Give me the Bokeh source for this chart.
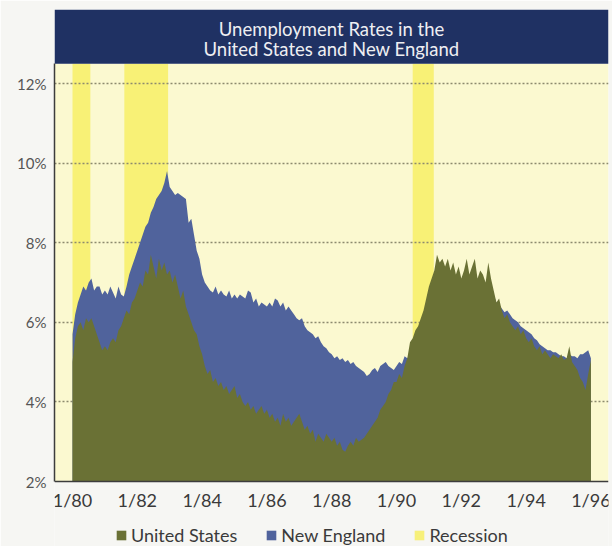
from bokeh.plotting import figure
from bokeh.models import (Range1d, FixedTicker, Legend, LegendItem, BoxAnnotation,
                          Label, ColumnDataSource)
from bokeh.embed import file_html
from bokeh.resources import INLINE

# Monthly unemployment rates, Jan 1980 .. Jan 1996 (percent)
start_year = 1980
united_states = [
    5.0, 5.6, 5.9, 6.0, 5.8, 6.1, 6.0, 6.1, 5.9, 5.7, 5.5, 5.3,      # 1980
    5.4, 5.3, 5.5, 5.6, 5.5, 5.8, 5.9, 6.1, 6.3, 6.2, 6.5, 6.6,      # 1981
    6.8, 7.0, 6.9, 7.3, 7.2, 7.7, 7.4, 7.1, 7.6, 7.3, 7.5, 7.2,      # 1982
    7.3, 7.0, 7.2, 6.9, 6.6, 6.8, 6.4, 6.2, 6.0, 5.8, 5.7, 5.4,      # 1983
    5.2, 4.9, 4.7, 4.8, 4.5, 4.6, 4.4, 4.5, 4.3, 4.4, 4.2, 4.3,      # 1984
    4.4, 4.1, 4.2, 4.0, 3.9, 4.0, 3.8, 3.9, 3.7, 3.8, 3.9, 3.7,      # 1985
    3.8, 3.6, 3.7, 3.5, 3.6, 3.4, 3.7, 3.5, 3.6, 3.4, 3.5, 3.6,      # 1986
    3.7, 3.5, 3.3, 3.4, 3.2, 3.3, 3.0, 3.2, 3.1, 3.0, 3.2, 3.1,      # 1987
    3.0, 3.1, 2.9, 3.0, 2.8, 2.75, 2.9, 3.0, 2.9, 3.1, 3.0, 3.05,    # 1988
    3.1, 3.2, 3.3, 3.4, 3.5, 3.6, 3.8, 3.9, 4.0, 4.2, 4.3, 4.5,      # 1989
    4.5, 4.7, 4.6, 4.9, 5.1, 5.5, 5.6, 5.8, 5.9, 6.1, 6.3, 6.6,      # 1990
    6.9, 7.1, 7.3, 7.7, 7.5, 7.6, 7.4, 7.6, 7.3, 7.5, 7.2, 7.4,      # 1991
    7.1, 7.3, 7.6, 7.2, 7.4, 7.6, 7.1, 7.3, 7.2, 7.0, 7.5, 7.1,      # 1992
    6.8, 6.5, 6.6, 6.3, 6.1, 6.2, 6.0, 5.9, 5.8, 5.9, 5.7, 5.8,      # 1993
    5.6, 5.5, 5.6, 5.4, 5.3, 5.4, 5.2, 5.3, 5.2, 5.1, 5.2, 5.15,     # 1994
    5.1, 5.2, 5.05, 5.1, 5.4, 5.0, 4.9, 4.8, 4.6, 4.5, 4.3, 4.7,     # 1995
    5.05,                                                            # 1996
]
new_england = [
    5.7, 6.2, 6.5, 6.7, 6.9, 6.8, 7.0, 7.1, 6.8, 6.9, 6.9, 6.7,      # 1980
    6.8, 6.7, 6.9, 6.75, 6.6, 6.9, 6.7, 6.65, 6.9, 7.2, 7.4, 7.6,    # 1981
    7.8, 8.0, 8.2, 8.4, 8.5, 8.75, 8.9, 9.1, 9.2, 9.3, 9.5, 9.8,     # 1982
    9.4, 9.3, 9.2, 9.25, 9.2, 9.15, 9.1, 8.5, 8.6, 8.2, 7.8, 7.6,    # 1983
    7.2, 7.0, 6.9, 6.8, 6.75, 6.9, 6.7, 6.8, 6.7, 6.65, 6.8, 6.6,    # 1984
    6.7, 6.6, 6.7, 6.65, 6.6, 6.8, 6.75, 6.5, 6.6, 6.4, 6.5, 6.45,   # 1985
    6.4, 6.5, 6.4, 6.6, 6.55, 6.4, 6.5, 6.3, 6.4, 6.3, 6.2, 6.1,     # 1986
    6.05, 6.1, 5.9, 5.8, 5.75, 5.7, 5.6, 5.65, 5.5, 5.4, 5.35, 5.25, # 1987
    5.2, 5.1, 5.15, 5.05, 5.1, 5.0, 5.05, 4.95, 5.0, 4.9, 4.85, 4.8, # 1988
    4.75, 4.65, 4.7, 4.8, 4.85, 4.75, 4.9, 4.95, 5.0, 4.9, 4.85, 4.8,# 1989
    4.9, 5.0, 4.95, 5.15, 5.1, 5.2, 5.3, 5.4, 5.5, 5.6, 5.8, 5.9,    # 1990
    6.0, 6.1, 6.15, 6.2, 6.25, 6.3, 6.4, 6.5, 6.55, 6.6, 6.7, 6.75,  # 1991
    6.7, 6.8, 6.75, 6.85, 6.8, 6.9, 6.8, 6.85, 6.9, 6.8, 6.9, 6.85,  # 1992
    6.7, 6.5, 6.45, 6.35, 6.25, 6.3, 6.2, 6.1, 6.05, 6.0, 5.9, 5.85, # 1993
    5.8, 5.75, 5.7, 5.6, 5.55, 5.45, 5.4, 5.35, 5.3, 5.3, 5.25, 5.25,# 1994
    5.2, 5.15, 5.15, 5.1, 5.2, 5.15, 5.15, 5.1, 5.2, 5.2, 5.25, 5.3, # 1995
    5.1,                                                             # 1996
]

# Recession periods (decimal years)
recession_start = [1980.0, 1981.6, 1990.5]
recession_end = [1980.55, 1982.95, 1991.15]

x_tick_years = [1980, 1982, 1984, 1986, 1988, 1990, 1992, 1994, 1996]
x_tick_labels = ["1/80", "1/82", "1/84", "1/86", "1/88", "1/90", "1/92", "1/94", "1/96"]
y_ticks = [2, 4, 6, 8, 10, 12]
y_tick_labels = ["2%", "4%", "6%", "8%", "10%", "12%"]

title_lines = ["Unemployment Rates in the", "United States and New England"]

months = [start_year + i / 12 for i in range(len(united_states))]
src = ColumnDataSource(dict(t=months, us=united_states, ne=new_england))

FONT = "Lato"
NAVY = "#1f3163"
PAGE_BG = "#f6f6f3"
PLOT_BG = "#fbf9d0"
RECESSION = "#f7ef6c"
BLUE = "#50639c"
OLIVE = "#6a7135"

y_floor = 2.0         # baseline of the data area (x axis sits here)
y_top = 12.5          # top of the data area
banner_top = 13.86    # banner sits above the data area
y_bottom = 0.367      # room under the axis for date labels and legend
x0, x1 = 1979.444, 1996.543

p = figure(frame_width=554, frame_height=537, output_backend="svg", toolbar_location=None,
           x_range=Range1d(x0, x1), y_range=Range1d(y_bottom, banner_top),
           min_border_left=54, min_border_right=4, min_border_top=9, min_border_bottom=0,
           background_fill_color=PAGE_BG, border_fill_color=PAGE_BG,
           outline_line_color=None)

# pale plot panel and recession shading
p.quad(left=x0, right=x1, bottom=y_floor, top=y_top,
       fill_color=PLOT_BG, line_color=None, level="image")
rec = p.quad(left=recession_start, right=recession_end, bottom=y_floor, top=y_top,
             fill_color=RECESSION, fill_alpha=0.9, line_color=None, level="image")

ne = p.varea(x="t", y1=y_floor, y2="ne", source=src, fill_color=BLUE)
us = p.varea(x="t", y1=y_floor, y2="us", source=src, fill_color=OLIVE)

# title banner
p.add_layout(BoxAnnotation(bottom=y_top, fill_color=NAVY, fill_alpha=1.0,
                           line_color=None, level="overlay"))
x_mid = (x0 + x1) / 2
for line, yy in zip(title_lines, [13.37, 12.87]):
    p.add_layout(Label(x=x_mid, y=yy, text=line, text_align="center",
                       text_baseline="middle", text_color="#eeeef2",
                       text_font=FONT, text_font_size="18.5px", level="overlay"))

# axes: the date axis is pinned to the 2% baseline
p.xaxis.fixed_location = y_floor
p.xaxis.ticker = FixedTicker(ticks=x_tick_years)
p.xaxis.major_label_overrides = dict(zip(x_tick_years, x_tick_labels))
p.xaxis.major_label_text_font = FONT
p.xaxis.major_label_text_font_size = "18px"
p.xaxis.major_label_text_color = "#3a3a3a"
p.xaxis.major_label_standoff = 7
p.xaxis.major_tick_out = 0
p.xaxis.major_tick_in = 0
p.xaxis.major_tick_line_color = None
p.xaxis.minor_tick_line_color = None
p.xaxis.axis_line_color = "#3c3c3c"
p.xaxis.axis_line_width = 1.5

p.yaxis.ticker = FixedTicker(ticks=y_ticks)
p.yaxis.major_label_overrides = dict(zip(y_ticks, y_tick_labels))
p.yaxis.bounds = (y_floor, y_top)
p.yaxis.major_label_text_font = FONT
p.yaxis.major_label_text_font_size = "15px"
p.yaxis.major_label_text_color = "#555555"
p.yaxis.major_label_standoff = 8
p.yaxis.major_tick_out = 0
p.yaxis.major_tick_in = 0
p.yaxis.major_tick_line_color = None
p.yaxis.minor_tick_line_color = None
p.yaxis.axis_line_color = "#3c3c3c"
p.yaxis.axis_line_width = 1.5

p.xgrid.grid_line_color = None
p.ygrid.ticker = FixedTicker(ticks=[4, 6, 8, 10, 12])
p.ygrid.grid_line_color = "#8c8a6e"
p.ygrid.grid_line_dash = "2 2"
p.ygrid.grid_line_width = 1.5

# legend along the bottom edge, under the date labels
legend = Legend(items=[LegendItem(label="United States", renderers=[us]),
                       LegendItem(label="New England", renderers=[ne]),
                       LegendItem(label="Recession", renderers=[rec])],
                orientation="horizontal", location=(61, 0),
                label_text_font=FONT, label_text_font_size="18px",
                label_text_color="#3a3a3a", glyph_width=12, glyph_height=12,
                label_height=18, label_standoff=4, spacing=28, padding=1, margin=0,
                background_fill_alpha=0, border_line_color=None)
p.add_layout(legend)

open("out.html", "w").write(file_html(p, INLINE))
